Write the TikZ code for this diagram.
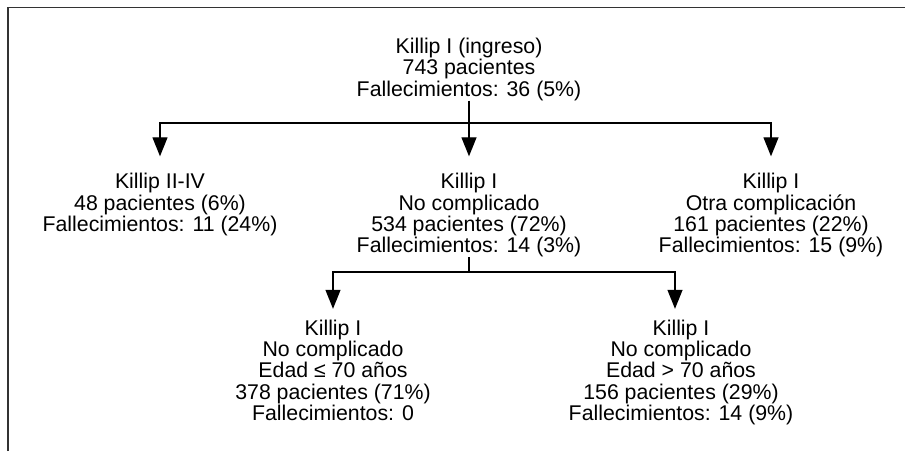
\documentclass[tikz,border=0pt]{standalone}
\usepackage{fontspec}
\setmainfont{Liberation Sans}
\usetikzlibrary{arrows.meta}

\begin{document}
\begin{tikzpicture}[x=1pt, y=-1pt,
	caja/.style={anchor=north, inner sep=0pt, align=center, font=\fontsize{21.3}{21.2}\selectfont},
	linea/.style={line width=1.3pt},
	flecha/.style={linea, -{Triangle[length=19pt,width=15pt]}}]
	\useasboundingbox (0,0) rectangle (905,451);
	\draw[line width=1.5pt, black!80] (8,451) -- (8,7.5) -- (905,7.5);

	\node[caja] (ingreso) at (469,38) {Killip I (ingreso)\\743 pacientes\\Fallecimientos: 36 (5\%)};
	\node[caja] (killipii) at (160,173.3) {Killip II-IV\\48 pacientes (6\%)\\Fallecimientos: 11 (24\%)};
	\node[caja] (nocomp) at (469,173.3) {Killip I\\No complicado\\534 pacientes (72\%)\\Fallecimientos: 14 (3\%)};
	\node[caja] (otra) at (771,173.3) {Killip I\\Otra complicación\\161 pacientes (22\%)\\Fallecimientos: 15 (9\%)};
	\node[caja] (menor) at (333,319.8) {Killip I\\No complicado\\Edad ≤ 70 años\\378 pacientes (71\%)\\Fallecimientos: 0};
	\node[caja] (mayor) at (681,319.8) {Killip I\\No complicado\\Edad > 70 años\\156 pacientes (29\%)\\Fallecimientos: 14 (9\%)};

	\coordinate (ramaA) at (0,123);
	\coordinate (ramaB) at (0,272);

	\draw[flecha] (ingreso.south) -- ([yshift=17pt]nocomp.north);
	\draw[flecha] (ingreso.south |- ramaA) -| ([yshift=17pt]killipii.north);
	\draw[flecha] (ingreso.south |- ramaA) -| ([yshift=17pt]otra.north);
	\draw[linea] (nocomp.south) -- (nocomp.south |- ramaB);
	\draw[flecha] (nocomp.south |- ramaB) -| ([yshift=11pt]menor.north);
	\draw[flecha] (nocomp.south |- ramaB) -| ([xshift=-6pt,yshift=11pt]mayor.north);
\end{tikzpicture}
\end{document}
